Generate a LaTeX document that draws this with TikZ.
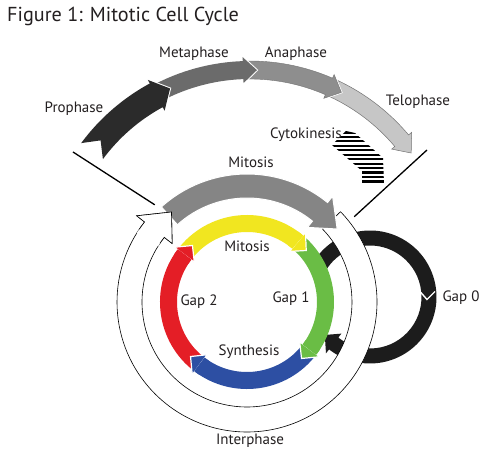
\documentclass[tikz,border=0pt]{standalone}
\usepackage{fontspec}
\setmainfont{PT Sans}
\definecolor{txt}{HTML}{231F20}
\definecolor{cyel}{HTML}{F1E620}
\definecolor{cgrn}{HTML}{6ABD45}
\definecolor{cblu}{HTML}{2D4FA3}
\definecolor{cred}{HTML}{E41E26}
\definecolor{cmit}{HTML}{858585}
\definecolor{cgz}{HTML}{1C1C1C}
\definecolor{cpro}{HTML}{2B2B2B}
\definecolor{cmet}{HTML}{6B6B6B}
\definecolor{cana}{HTML}{8E8E8E}
\definecolor{ctel}{HTML}{C6C6C6}
% band with arrow head: rin, rout, tail, base, tip, barb extra, tail notch
\newcommand{\bandarrow}[7]{(#3:#2) arc[start angle=#3,end angle=#4,radius=#2]
  -- (#4:{#2+#6}) -- (#5:{(#1+#2)/2}) -- (#4:{#1-#6}) -- (#4:#1)
  arc[start angle=#4,end angle=#3,radius=#1] -- ({#3-#7}:{(#1+#2)/2}) -- cycle}
\newcommand{\bandonly}[4]{(#3:#2) arc[start angle=#3,end angle=#4,radius=#2]
  -- (#4:#1) arc[start angle=#4,end angle=#3,radius=#1] -- cycle}
\newcommand{\headonly}[5]{(#3:{#2+#5}) -- (#4:{(#1+#2)/2}) -- (#3:{#1-#5}) -- cycle}
\begin{document}
\begin{tikzpicture}[x=1pt,y=1pt,
  lbl/.style={font=\fontsize{15}{18}\selectfont, text=txt, anchor=base, inner sep=0pt},
  halo/.style={draw=white, line width=2pt},
  vline/.style={line width=1.3pt, draw=black}]
\useasboundingbox (0,0) rectangle (493,450);
\fill[white] (0,0) rectangle (493,450);

\node[anchor=base west, inner sep=0pt, font=\fontsize{20.2}{24}\selectfont, text=txt] (title) at (7,428) {Figure 1: Mitotic Cell Cycle};

% ---------- top phase arc ----------
\begin{scope}[shift={(250,182)}]
  \path[halo] \bandarrow{189}{207}{66.5}{40}{35.5}{4}{4};
  \fill[ctel, draw=black!55, line width=0.5pt] \bandarrow{189}{207}{66.5}{40}{35.5}{4}{4};
  \path[halo] \bandarrow{189}{207}{92}{66.5}{62.5}{4}{4};
  \fill[cana, draw=black!55, line width=0.4pt] \bandarrow{189}{207}{92}{66.5}{62.5}{4}{4};
  \path[halo] \bandarrow{189}{207}{118.5}{92}{88}{4}{4};
  \fill[cmet] \bandarrow{189}{207}{118.5}{92}{88}{4}{4};
  \path[halo] \bandarrow{183}{210}{143.5}{118.5}{114}{4}{4};
  \fill[cpro] \bandarrow{183}{210}{143.5}{118.5}{114}{4}{4};
\end{scope}

% ---------- cytokinesis stripes ----------
\begin{scope}
  \clip (346,319) -- (355,317) -- (383,292) -- (384,266) -- (362,266) -- (362,279) -- (332,305) -- cycle;
  \foreach \k in {0,...,11} \draw[line width=2.2pt, black] (320,{317.5-\k*4.45}) -- (400,{317.5-\k*4.45});
\end{scope}

% ---------- Gap 0 loop ----------
\begin{scope}[shift={(370,153)}]
  \fill[cgz] \bandarrow{51.5}{66.5}{150}{-128}{-140}{5}{0};
\end{scope}
\draw[white, line width=1.4pt] (420,158.5) -- (427,150.5) -- (435,158.5);

% ---------- coloured ring ----------
\begin{scope}[shift={(247,148)}]
  \fill[cyel] \bandonly{70}{87}{140}{50};
  \fill[cgrn] \bandonly{70}{87}{50}{-37};
  \fill[cblu] \bandonly{70}{87}{-37}{-127};
  \fill[cred] \bandonly{70}{87}{-127}{-217};
  \draw[white, line width=1.2pt, fill=cyel] \headonly{70}{87}{50}{41}{4};
  \fill[cyel] \bandonly{70}{87}{54}{49.6};
  \draw[white, line width=1.2pt, fill=cgrn] \headonly{70}{87}{-37}{-46}{4};
  \fill[cgrn] \bandonly{70}{87}{-33}{-37.4};
  \draw[white, line width=1.2pt, fill=cblu] \headonly{70}{87}{-127}{-136}{4};
  \fill[cblu] \bandonly{70}{87}{-123}{-127.4};
  \draw[white, line width=1.2pt, fill=cred] \headonly{70}{87}{-217}{-226}{4};
  \fill[cred] \bandonly{70}{87}{-213}{-217.4};

  % interphase white band
  \draw[fill=white, line width=0.6pt] \bandarrow{105}{130}{44}{-218}{-230}{10}{0};
  % mitosis gray arrow
  \draw[fill=cmit, draw=white, line width=1pt] \bandarrow{104}{128}{132}{51}{39}{8}{0};
  % white head on top
  \path[fill=white] (-212:130) arc[start angle=-212,end angle=-218,radius=130]
     -- (-218:140) -- (-230:117.5) -- (-218:95) -- (-218:105)
     arc[start angle=-218,end angle=-212,radius=105] -- cycle;
  \draw[line width=0.6pt] (-214:130) arc[start angle=-214,end angle=-218,radius=130]
     -- (-218:140) -- (-230:117.5) -- (-218:95) -- (-218:105)
     arc[start angle=-218,end angle=-214,radius=105];
  \coordinate (mitL) at (133.5:134);
  \coordinate (mitR) at (38.5:137);
\end{scope}

% ---------- zoom lines ----------
\coordinate (proL) at (73,298);
\coordinate (telR) at (427,300);
\draw[vline] (proL) -- (mitL);
\draw[vline] (telR) -- (mitR);

% ---------- labels ----------
\node[lbl] (lpro) at (74,337) {Prophase};
\node[lbl] (lmet) at (194,392) {Metaphase};
\node[lbl] (lana) at (296,392) {Anaphase};
\node[lbl] (ltel) at (418,344) {Telophase};
\node[lbl] (lcyt) at (306,311) {Cytokinesis};
\node[lbl] (lmit) at (251,282) {Mitosis};
\node[lbl] (lmit2) at (247,198) {Mitosis};
\node[lbl] (lg2) at (199,144) {Gap 2};
\node[lbl] (lg1) at (291,147) {Gap 1};
\node[lbl] (lsyn) at (249,94) {Synthesis};
\node[lbl] (lint) at (250,5) {Interphase};
\node[lbl] (lg0) at (461,148) {Gap 0};
\end{tikzpicture}
\end{document}
